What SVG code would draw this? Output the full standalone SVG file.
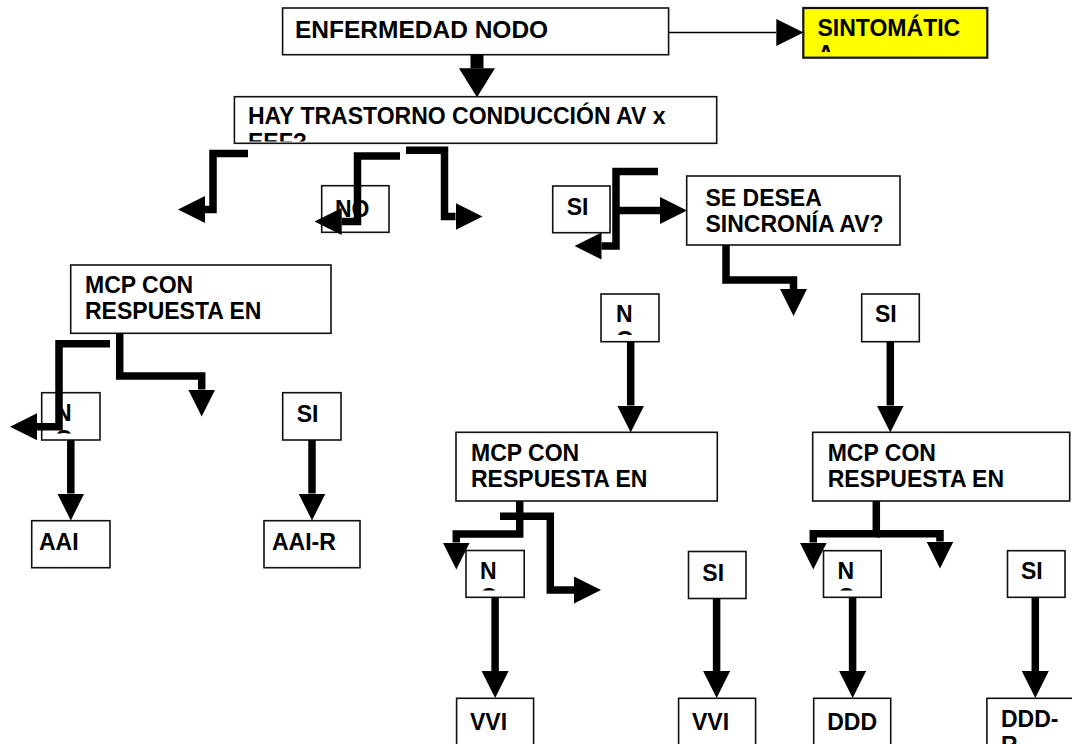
<svg xmlns="http://www.w3.org/2000/svg" width="1072" height="744" viewBox="0 0 1072 744">
<style>
.bx{fill:#fff;stroke:#111;stroke-width:1.6}
.yl{fill:#ffff00;stroke:#111;stroke-width:2.2}
.t{font-family:"Liberation Sans",Arial,sans-serif;font-weight:bold;font-size:23px;fill:#000}
.big{font-size:24.5px}
.c{fill:none;stroke:#000;stroke-width:7.5;stroke-linejoin:miter;stroke-linecap:butt;marker-end:url(#ah)}
.thin{fill:none;stroke:#000;stroke-width:1.5;marker-end:url(#ah)}
.fat{fill:none;stroke:#000;stroke-width:13;marker-end:url(#ahb)}
</style>
<defs>
<marker id="ah" markerUnits="userSpaceOnUse" viewBox="0 0 27 27" refX="0" refY="13.5" markerWidth="27" markerHeight="27" orient="auto"><path d="M0,0 L27,13.5 L0,27 Z" fill="#000"/></marker>
<marker id="ahb" markerUnits="userSpaceOnUse" viewBox="0 0 29 36" refX="0" refY="18" markerWidth="29" markerHeight="36" orient="auto"><path d="M0,0 L29,18 L0,36 Z" fill="#000"/></marker>
<clipPath id="cpS" clipPathUnits="userSpaceOnUse"><rect x="803" y="8" width="184" height="44"/></clipPath>
<clipPath id="cpH" clipPathUnits="userSpaceOnUse"><rect x="234" y="97" width="483" height="44.5"/></clipPath>
<clipPath id="cpN1" clipPathUnits="userSpaceOnUse"><rect x="601" y="294" width="58" height="41"/></clipPath>
<clipPath id="cpN2" clipPathUnits="userSpaceOnUse"><rect x="41" y="392" width="59" height="41.5"/></clipPath>
<clipPath id="cpN3" clipPathUnits="userSpaceOnUse"><rect x="466" y="550" width="58" height="40.5"/></clipPath>
<clipPath id="cpN4" clipPathUnits="userSpaceOnUse"><rect x="823" y="550" width="58" height="40.5"/></clipPath>
</defs>

<g id="n-enfermedad"><rect class="bx" x="282.6" y="8" width="386" height="46.7"/><text class="t big" x="295" y="37.5">ENFERMEDAD NODO</text></g>
<g id="n-sintomatica"><rect class="yl" x="803.3" y="8" width="184" height="49.7"/><text class="t" x="817.5" y="36" clip-path="url(#cpS)"><tspan x="817.5">SINTOMÁTIC</tspan><tspan x="817.5" dy="26">A</tspan></text></g>
<g id="n-hay"><rect class="bx" x="234.4" y="96.7" width="482.3" height="46.6"/><text class="t" x="248" y="124" clip-path="url(#cpH)"><tspan x="248">HAY TRASTORNO CONDUCCIÓN AV x</tspan><tspan x="248" dy="26">EEF?</tspan></text></g>
<g id="n-no"><rect class="bx" x="321.7" y="185.7" width="67.3" height="46.6"/><text class="t" x="335" y="217.3">NO</text></g>
<g id="n-si-top"><rect class="bx" x="552.7" y="186" width="57.3" height="46.7"/><text class="t" x="566.7" y="215">SI</text></g>
<g id="n-sincronia"><rect class="bx" x="686.7" y="176" width="213.3" height="69"/><text class="t" x="705.5" y="205.7"><tspan x="705.5">SE DESEA</tspan><tspan x="705.5" dy="26">SINCRONÍA AV?</tspan></text></g>
<g id="n-no-sinc"><rect class="bx" x="601" y="294" width="58" height="47.7"/><text class="t" x="616" y="321.7" clip-path="url(#cpN1)"><tspan x="616">N</tspan><tspan x="616" dy="26">O</tspan></text></g>
<g id="n-si-sinc"><rect class="bx" x="861.7" y="294" width="57.6" height="47.7"/><text class="t" x="875" y="321.7">SI</text></g>
<g id="n-mcp-left"><rect class="bx" x="70.7" y="265" width="260.3" height="68.3"/><text class="t" x="85" y="293.3"><tspan x="85">MCP CON</tspan><tspan x="85" dy="25.7">RESPUESTA EN</tspan></text></g>
<g id="n-no-left"><rect class="bx" x="41.7" y="392.7" width="58.3" height="47.3"/><text class="t" x="55" y="420.7" clip-path="url(#cpN2)"><tspan x="55">N</tspan><tspan x="55" dy="26">O</tspan></text></g>
<g id="n-si-left"><rect class="bx" x="282.7" y="392.7" width="58.3" height="47.3"/><text class="t" x="296.7" y="421.5">SI</text></g>
<g id="n-aai"><rect class="bx" x="31.7" y="520.7" width="78.3" height="47"/><text class="t" x="39" y="550">AAI</text></g>
<g id="n-aair"><rect class="bx" x="264" y="520.7" width="96" height="47"/><text class="t" x="272" y="550">AAI-R</text></g>
<g id="n-mcp-mid"><rect class="bx" x="456" y="432.3" width="261.3" height="68.7"/><text class="t" x="471" y="461"><tspan x="471">MCP CON</tspan><tspan x="471" dy="25.7">RESPUESTA EN</tspan></text></g>
<g id="n-mcp-right"><rect class="bx" x="812.7" y="432.3" width="257" height="68.7"/><text class="t" x="827.7" y="461"><tspan x="827.7">MCP CON</tspan><tspan x="827.7" dy="25.7">RESPUESTA EN</tspan></text></g>
<g id="n-no-mid"><rect class="bx" x="466" y="550.5" width="58.2" height="46.8"/><text class="t" x="480" y="579.3" clip-path="url(#cpN3)"><tspan x="480">N</tspan><tspan x="480" dy="26">O</tspan></text></g>
<g id="n-si-mid"><rect class="bx" x="688.5" y="551.5" width="57.5" height="47"/><text class="t" x="702.3" y="581">SI</text></g>
<g id="n-no-right"><rect class="bx" x="823.5" y="550.7" width="57.7" height="46.6"/><text class="t" x="837.5" y="579.3" clip-path="url(#cpN4)"><tspan x="837.5">N</tspan><tspan x="837.5" dy="26">O</tspan></text></g>
<g id="n-si-right"><rect class="bx" x="1007.5" y="550.7" width="57.5" height="46.6"/><text class="t" x="1021" y="579.3">SI</text></g>
<g id="n-vvi1"><rect class="bx" x="456.6" y="698.3" width="77" height="60"/><text class="t" x="470" y="730">VVI</text></g>
<g id="n-vvi2"><rect class="bx" x="678.6" y="698.3" width="77" height="60"/><text class="t" x="692" y="730">VVI</text></g>
<g id="n-ddd"><rect class="bx" x="813.7" y="698.3" width="77" height="60"/><text class="t" x="827.2" y="730">DDD</text></g>
<g id="n-dddr"><rect class="bx" x="986.9" y="698.3" width="100" height="60"/><text class="t" x="1001" y="727"><tspan x="1001">DDD-</tspan><tspan x="1001" dy="26">R</tspan></text></g>

<g id="connectors">
<path class="fat" d="M477,54.7 V68.3"/>
<path class="thin" d="M668.6,32.5 H776.3"/>
<path class="c" d="M248,153.5 H213 V209.5 H205"/>
<path class="c" d="M400,156 H357.5 V221.5 H341.7"/>
<path class="c" d="M406,150.3 H444.5 V216.5 H455.5"/>
<path class="c" d="M658,171.5 H616 V246 H601.5"/>
<path class="c" d="M616,210.5 H660"/>
<path class="c" d="M726,245 V280 H793.5 V289"/>
<path class="c" d="M630.7,341.7 V405.5"/>
<path class="c" d="M890.3,341.7 V405.5"/>
<path class="c" d="M119.7,333.3 V376 H201.7 V389.5"/>
<path class="c" d="M110,343.7 H59 V426.7 H37"/>
<path class="c" d="M70.8,440 V493.5"/>
<path class="c" d="M312,440 V493.5"/>
<path class="c" d="M519.7,501 V534 H456.3 V542.5"/>
<path class="c" d="M500,516.3 H550.3 V590 H574"/>
<path class="c" d="M876.3,501 V533.7 H813.3 V542.5"/>
<path class="c" d="M876.3,533.7 H940 V541.5"/>
<path class="c" d="M495.1,597.3 V671"/>
<path class="c" d="M716.6,598.5 V671"/>
<path class="c" d="M852.6,597.3 V671"/>
<path class="c" d="M1035.3,597.3 V671"/>
</g>
</svg>
